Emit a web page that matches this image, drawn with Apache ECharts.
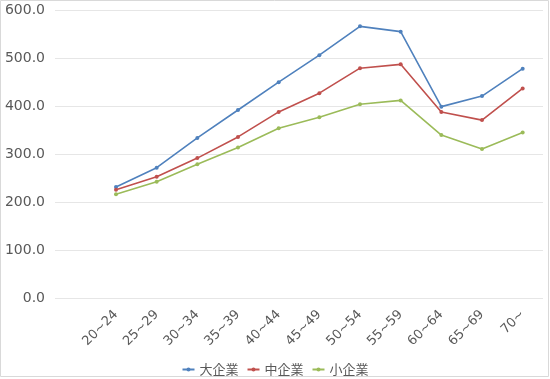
<!DOCTYPE html>
<html><head><meta charset="utf-8">
<script src="https://cdn.jsdelivr.net/npm/echarts@6/dist/echarts.min.js"></script>
<style>html,body{margin:0;padding:0;background:#fff}#c{width:550px;height:379px}</style>
</head><body><div id="c"></div>
<script>
const categories = ['20~24','25~29','30~34','35~39','40~44','45~49','50~54','55~59','60~64','65~69','70~'];
const large = [232, 272, 334, 392, 450, 506, 566, 555, 399, 421, 478];
const medium = [226, 253, 292, 336, 388, 427, 479, 487, 388, 371, 437];
const small = [217, 243, 279, 314, 354, 377, 404, 412, 340, 311, 345];
const yTicks = [0, 100, 200, 300, 400, 500, 600];

const chart = echarts.init(document.getElementById('c'), null, {renderer:'canvas'});
const numFont = '"DejaVu Sans", sans-serif';
const jpFont = '"Noto Sans CJK JP", sans-serif';
function mk(name, data, color){
  return {name, type:'line', data:[null].concat(data), symbol:'circle', symbolSize:4,
    lineStyle:{color, width:1.6}, itemStyle:{color}, connectNulls:false};
}
chart.setOption({
  animation:false,
  graphic:[{type:'rect', shape:{x:0.5,y:0.5,width:548,height:376}, style:{fill:null, stroke:'#d9d9d9', lineWidth:1}}],
  grid:{left:55, right:7, top:10, bottom:80.5},
  xAxis:{type:'category', data:[''].concat(categories), boundaryGap:true,
    axisLine:{show:false}, axisTick:{show:false},
    axisLabel:{rotate:45, interval:0, color:'#595959', fontSize:13, fontFamily:numFont, margin:14}},
  yAxis:{type:'value', min:yTicks[0], max:yTicks[yTicks.length-1], interval:100,
    axisLine:{show:false}, axisTick:{show:false},
    splitLine:{lineStyle:{color:'#e6e6e6', width:1}},
    axisLabel:{formatter:v=>v.toFixed(1), color:'#595959', fontSize:14, fontFamily:numFont, margin:10}},
  legend:{top:358, left:'center', itemWidth:12, itemHeight:5, itemGap:8,
    textStyle:{color:'#595959', fontSize:13, fontFamily:jpFont},
    data:['大企業','中企業','小企業']},
  series:[mk('大企業', large, '#4F81BD'), mk('中企業', medium, '#C0504D'), mk('小企業', small, '#9BBB59')]
});
</script></body></html>
